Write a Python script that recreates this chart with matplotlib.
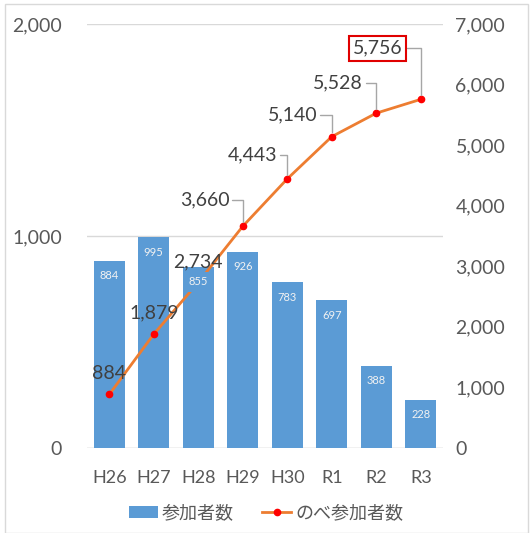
import matplotlib.pyplot as plt
from matplotlib.patches import Rectangle

years = ['H26', 'H27', 'H28', 'H29', 'H30', 'R1', 'R2', 'R3']
participants = [884, 995, 855, 926, 783, 697, 388, 228]
cumulative = [884, 1879, 2734, 3660, 4443, 5140, 5528, 5756]
# label offsets (pixels) of the line labels from their markers
label_dx = [0, 0, 0, -38, -35, -39, -38, -43]
label_dy = [21, 21, 21, 26, 24, 22, 30, 51]

bar_color = '#5B9BD5'
line_color = '#ED7D31'
text_gray = '#595959'

plt.rcParams['font.family'] = ['Lato', 'Noto Sans CJK JP', 'DejaVu Sans']

fig = plt.figure(figsize=(5.32, 5.33), dpi=100)
fig.patches.append(Rectangle((5 / 532, 0), 523 / 532, 529 / 533, transform=fig.transFigure,
                             fill=False, edgecolor='#D9D9D9', linewidth=1))
ax = fig.add_axes([87 / 532, 85 / 533, 356 / 532, 424 / 533])
ax2 = ax.twinx()

x = list(range(len(years)))
bars = ax.bar(x, participants, width=0.7, color=bar_color, label='参加者数', zorder=2)
ax.set_xlim(-0.5, len(years) - 0.5)
ax.set_ylim(0, 2000)
ax.set_yticks([0, 1000, 2000])
ax.set_yticklabels(['0', '1,000', '2,000'])
ax.grid(axis='y', color='#D9D9D9', linewidth=1, zorder=0)
ax.set_axisbelow(True)
ax.set_xticks(x)
ax.set_xticklabels(years)
ax.tick_params(axis='x', length=0, pad=16, labelsize=13, labelcolor=text_gray)
ax.tick_params(axis='y', length=0, pad=18, labelsize=14, labelcolor=text_gray)

ax2.plot(x, cumulative, color=line_color, linewidth=2, marker='o', markersize=4.5,
         markerfacecolor='#FF0000', markeredgecolor='#FF0000', label='のべ参加者数', zorder=3)
ax2.set_ylim(0, 7000)
ax2.set_yticks(range(0, 8000, 1000))
ax2.set_yticklabels([f'{v:,}' for v in range(0, 8000, 1000)])
ax2.tick_params(axis='y', length=0, pad=9, labelsize=14, labelcolor=text_gray)

for a in (ax, ax2):
    for s in a.spines.values():
        s.set_visible(False)
ax.axhline(0, color='#D9D9D9', linewidth=1, zorder=1)

# bar labels (drawn above the line, with a box of the bar colour)
for i, v in enumerate(participants):
    ax2.annotate(f'{v:,}', xy=(i, v * 7000 / 2000), xytext=(0, -15), textcoords='offset pixels',
                 ha='center', va='center', fontsize=8, color='#F2F2F2', zorder=5,
                 bbox=dict(boxstyle='square,pad=0.4', facecolor=bar_color, edgecolor='none'))

# line labels
for i, v in enumerate(cumulative):
    kw = dict(xy=(i, v), xytext=(label_dx[i], label_dy[i]), textcoords='offset pixels',
              ha='center', va='center', fontsize=14, color='#404040', zorder=6)
    if label_dx[i] != 0:
        kw['arrowprops'] = dict(arrowstyle='-', color='#A6A6A6', linewidth=1,
                                connectionstyle='angle,angleA=0,angleB=90,rad=0',
                                shrinkA=0, shrinkB=3)
    if i == len(cumulative) - 1:
        kw['bbox'] = dict(boxstyle='square,pad=0.2', facecolor='white', edgecolor='#E00000', linewidth=1.5)
    ax2.annotate(f'{v:,}', **kw)

h1, l1 = ax.get_legend_handles_labels()
h2, l2 = ax2.get_legend_handles_labels()
fig.legend(h1 + h2, l1 + l2, loc='center', bbox_to_anchor=(0.5, 1 - 513 / 533), ncol=2,
           frameon=False, fontsize=13, labelcolor=text_gray, handlelength=1.6,
           handletextpad=0.2, columnspacing=1.6)

fig.savefig('out.png', dpi=100)
